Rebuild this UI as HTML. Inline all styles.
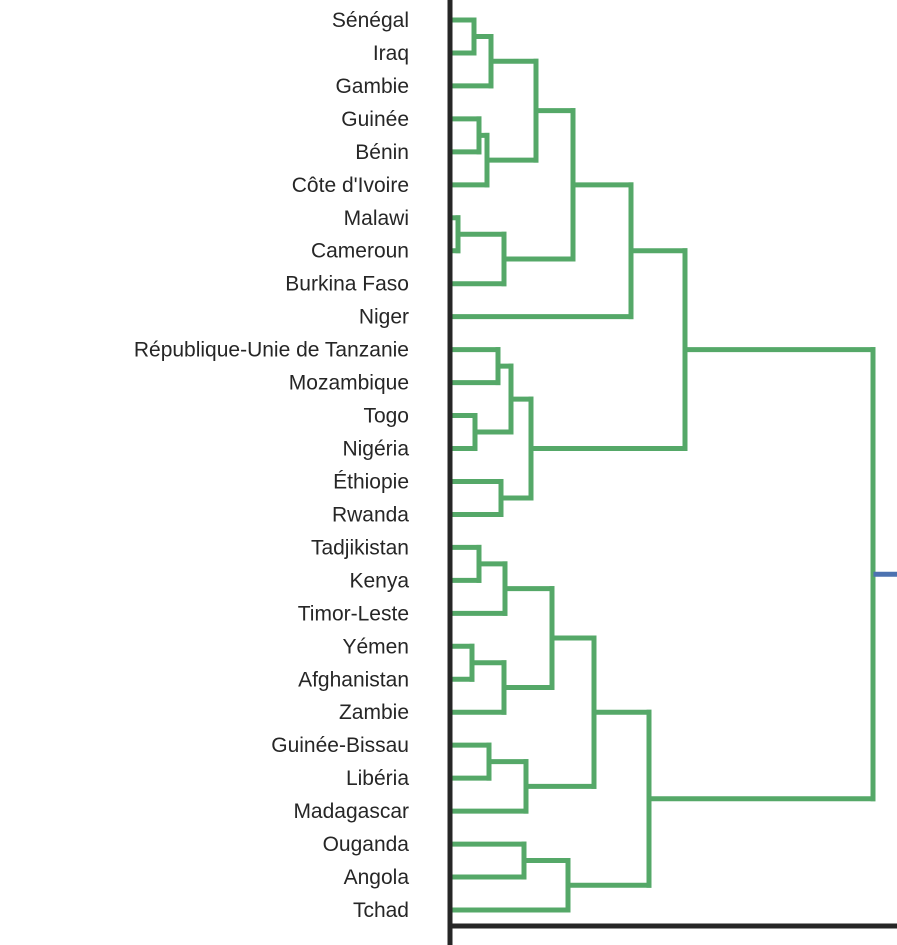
<!DOCTYPE html>
<html><head><meta charset="utf-8">
<style>
html,body{margin:0;padding:0;background:#fff;}
svg{display:block;}
text{font-family:"Liberation Sans",sans-serif;font-size:21px;fill:#262626;}
</style></head>
<body>
<svg id="chart" width="897" height="945" viewBox="0 0 897 945" xmlns="http://www.w3.org/2000/svg"></svg>
<script>
const leaves = ["Sénégal","Iraq","Gambie","Guinée","Bénin","Côte d'Ivoire","Malawi","Cameroun","Burkina Faso","Niger","République-Unie de Tanzanie","Mozambique","Togo","Nigéria","Éthiopie","Rwanda","Tadjikistan","Kenya","Timor-Leste","Yémen","Afghanistan","Zambie","Guinée-Bissau","Libéria","Madagascar","Ouganda","Angola","Tchad"];
const mergeLeft  = [0,28,3,30,29,6,33,32,35,10,12,37,14,39,36,16,43,19,45,44,22,48,47,25,51,50,42];
const mergeRight = [1,2,4,5,31,7,8,34,9,11,13,38,15,40,41,17,18,20,21,46,23,24,49,26,27,52,53];
const mergeHeight= [2.4,4.1,2.9,3.7,8.6,0.8,5.4,12.3,18.1,4.8,2.5,6.1,5.1,8.1,23.5,2.9,5.5,2.2,5.4,10.2,3.9,7.6,14.4,7.4,11.8,19.9,42.3];

const svg = document.getElementById('chart');
const NS = 'http://www.w3.org/2000/svg';
const x0 = 450, xPer = 10;
const xs = d => x0 + d * xPer;
const ys = i => 20 + i * (890 / 27);

const pos = {};
leaves.forEach((name, i) => {
  pos[i] = {y: ys(i), d: 0};
  const t = document.createElementNS(NS, 'text');
  
  
  t.setAttribute('x', 409);
  t.setAttribute('y', ys(i) + 7);
  t.setAttribute('text-anchor', 'end');
  t.textContent = name;
  svg.appendChild(t);
});

function line(x1, y1, x2, y2, color, w, name) {
  const l = document.createElementNS(NS, 'line');
  
  
  l.setAttribute('x1', x1); l.setAttribute('y1', y1);
  l.setAttribute('x2', x2); l.setAttribute('y2', y2);
  l.setAttribute('stroke', color); l.setAttribute('stroke-width', w);
  l.setAttribute('stroke-linecap', 'square');
  svg.appendChild(l);
}

const green = '#55a868';
mergeHeight.forEach((h, k) => {
  const a = pos[mergeLeft[k]], b = pos[mergeRight[k]];
  const xh = xs(h);
  line(xs(a.d), a.y, xh, a.y, green, 5, 'dendrogram-link');
  line(xs(b.d), b.y, xh, b.y, green, 5, 'dendrogram-link');
  line(xh, a.y, xh, b.y, green, 5, 'dendrogram-link');
  pos[leaves.length + k] = {y: (a.y + b.y) / 2, d: h};
});
const root = pos[leaves.length + mergeHeight.length - 1];
line(xs(root.d) + 3, root.y, 900, root.y, '#4c72b0', 5, 'root-link');

line(450, 0, 450, 945, '#262626', 5, 'y-axis-line');
line(450, 926, 900, 926, '#262626', 5, 'x-axis-line');
</script>
</body></html>
